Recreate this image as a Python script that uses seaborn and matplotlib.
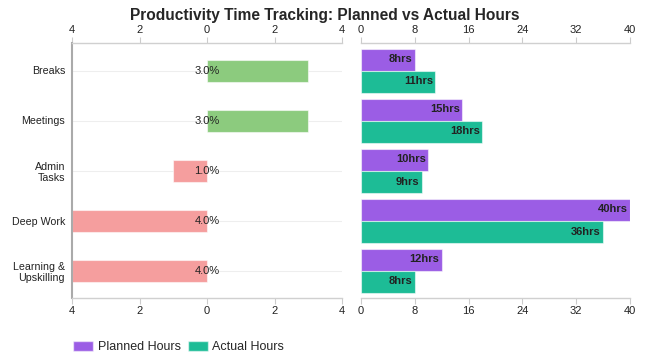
import matplotlib
matplotlib.use('Agg')
import numpy as np
import pandas as pd
import seaborn as sns
from matplotlib import pyplot as plt
from matplotlib.patches import Patch

# 数据
categories = ['Breaks', 'Meetings', 'Admin\nTasks', 'Deep Work', 'Learning &\nUpskilling']
planned = [8, 15, 10, 40, 12]
actual = [11, 18, 9, 36, 8]
diff = [3, 3, -1, -4, -4]
diff_labels = ['3.0%', '3.0%', '1.0%', '4.0%', '4.0%']
left_ticks = [-4, -2, 0, 2, 4]
right_ticks = [0, 8, 16, 24, 32, 40]

c_plan = '#9b5de5'
c_act = '#1dbc96'
c_pos = '#8ccb7e'
c_neg = '#f59e9e'
edge = (1, 1, 1, 0.55)

sns.set_style('white')
plt.rcParams['font.family'] = ['Liberation Sans', 'DejaVu Sans']

fig = plt.figure(figsize=(6.5, 3.61), dpi=100)
ax1 = fig.add_axes([72/650, 63/361, 270/650, 255/361])
ax2 = fig.add_axes([361/650, 63/361, 269/650, 255/361])

# 左图：差值
df_l = pd.DataFrame({'cat': categories, 'diff': diff})
df_l['sign'] = ['pos' if d > 0 else 'neg' for d in diff]
sns.barplot(data=df_l, x='diff', y='cat', hue='sign', palette={'pos': c_pos, 'neg': c_neg},
            width=0.44, dodge=False, legend=False, ax=ax1, saturation=1,
            edgecolor=edge, linewidth=0.8)
for i, t in enumerate(diff_labels):
    ax1.text(0, i, t, ha='center', va='center', fontsize=8, color='#222')
ax1.set_xlim(-4, 4)
ax1.set_ylim(4.55, -0.55)
ax1.set_xticks(left_ticks)
ax1.set_xticklabels([str(abs(v)) for v in left_ticks])
ax1.set_xlabel('')
ax1.set_ylabel('')
for y in range(len(categories)):
    ax1.axhline(y, color='#eeeeee', lw=0.8, zorder=0)

# 右图：计划 vs 实际
df_r = pd.DataFrame({
    'cat': categories * 2,
    'hours': planned + actual,
    'type': ['Planned Hours'] * 5 + ['Actual Hours'] * 5,
})
sns.barplot(data=df_r, x='hours', y='cat', hue='type',
            palette={'Planned Hours': c_plan, 'Actual Hours': c_act},
            width=0.88, legend=False, ax=ax2, saturation=1,
            edgecolor=edge, linewidth=0.8)
for cont in ax2.containers:
    ax2.bar_label(cont, labels=[f'{int(v)}hrs' for v in cont.datavalues],
                  padding=-1.5, fontsize=8, fontweight='bold', color='#222')
for t in ax2.texts:
    t.set_ha('right')
ax2.set_xlim(0, 40)
ax2.set_ylim(4.55, -0.55)
ax2.set_xticks(right_ticks)
ax2.set_yticks([])
ax2.set_xlabel('')
ax2.set_ylabel('')

for ax in (ax1, ax2):
    ax.tick_params(axis='x', which='both', top=True, bottom=True, labeltop=True, labelbottom=True,
                   length=4, width=0.8, color='#cccccc', labelsize=8, pad=1.5, labelcolor='#222')
    ax.spines['right'].set_visible(False)
    ax.spines['top'].set_color('#d0d0d0')
    ax.spines['bottom'].set_color('#d0d0d0')
    ax.spines['top'].set_linewidth(1.0)
    ax.spines['bottom'].set_linewidth(1.0)
ax1.spines['left'].set_color('#aaaaaa')
ax1.spines['left'].set_linewidth(1.5)
ax1.tick_params(axis='y', length=3, width=0.8, color='#aaaaaa', labelsize=7.7, pad=2, labelcolor='#222')
ax2.spines['left'].set_visible(False)

fig.suptitle('Productivity Time Tracking: Planned vs Actual Hours', x=0.5, y=0.978,
             fontsize=11.2, fontweight='bold')

handles = [Patch(facecolor=c_plan, edgecolor=edge, label='Planned Hours'),
           Patch(facecolor=c_act, edgecolor=edge, label='Actual Hours')]
fig.legend(handles=handles, loc='lower left', bbox_to_anchor=(62/650, -0.01), ncol=2,
           frameon=False, fontsize=9, handlelength=1.6, handleheight=0.9,
           columnspacing=0.5, handletextpad=0.4)

fig.savefig('out.png', dpi=100)
